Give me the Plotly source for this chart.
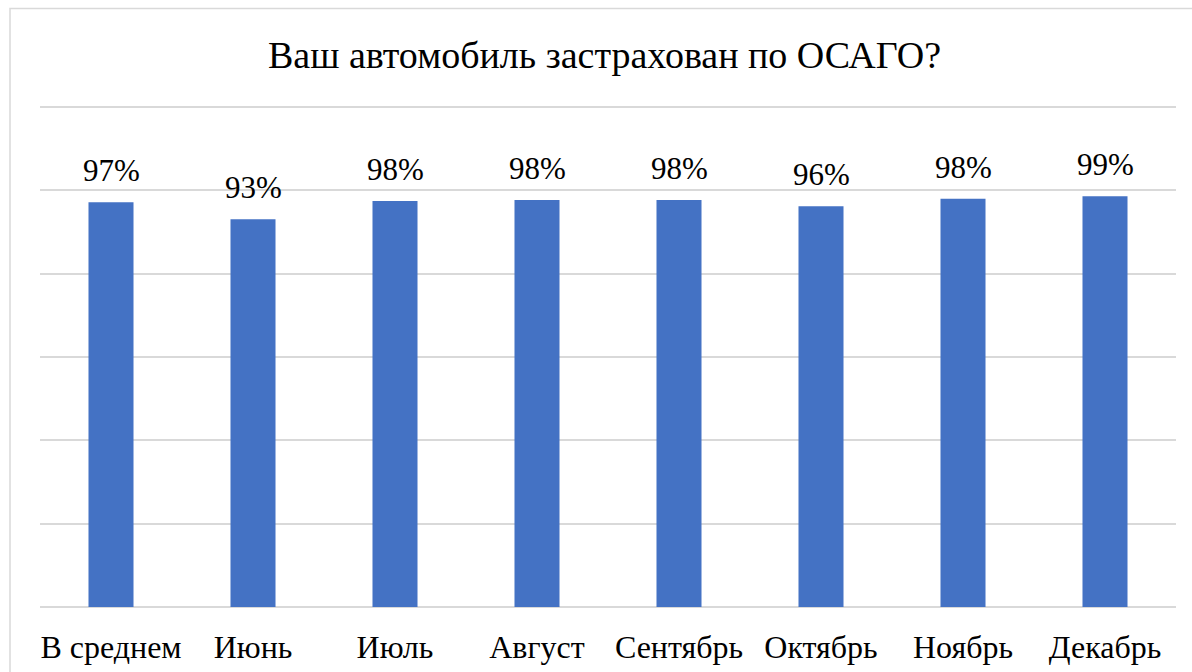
import plotly.graph_objects as go

categories = ["В среднем", "Июнь", "Июль", "Август", "Сентябрь", "Октябрь", "Ноябрь", "Декабрь"]
values = [0.972, 0.931, 0.975, 0.977, 0.977, 0.962, 0.980, 0.986]
labels = ["97%", "93%", "98%", "98%", "98%", "96%", "98%", "99%"]
title_text = "Ваш автомобиль застрахован по ОСАГО?"

FONT = '"Liberation Serif", "Times New Roman", serif'

fig = go.Figure()
fig.add_trace(go.Bar(
    x=categories, y=values,
    marker=dict(color="#4472C4", line=dict(width=0)),
    hoverinfo="skip",
))

for c, v, t in zip(categories, values, labels):
    fig.add_annotation(
        x=c, y=v, xref="x", yref="y", text=t, showarrow=False,
        yanchor="bottom", yshift=12,
        font=dict(family=FONT, size=31, color="#000000"),
    )

# outer chart border (only left and top edges fall inside the frame)
fig.add_shape(type="rect", xref="paper", yref="paper",
              x0=-0.0264, x1=1.2, y0=-0.3, y1=1.1875,
              line=dict(color="#D9D9D9", width=1.5), fillcolor="rgba(0,0,0,0)",
              layer="below")

fig.update_layout(
    width=1192, height=672,
    margin=dict(l=40, r=16, t=103, b=65),
    paper_bgcolor="white", plot_bgcolor="white",
    bargap=0.683,
    showlegend=False,
    title=dict(text=title_text, x=0.5071, xanchor="center",
               y=1 - 54.5 / 672, yanchor="middle", yref="container",
               font=dict(family=FONT, size=38, color="#000000")),
    xaxis=dict(showgrid=False, showline=False, zeroline=False, automargin=False,
               ticks="outside", ticklen=0, ticklabelstandoff=12,
               tickfont=dict(family=FONT, size=32, color="#000000")),
    yaxis=dict(range=[0, 1.21], tickvals=[0.2, 0.4, 0.6, 0.8, 1.0, 1.2],
               showticklabels=False, automargin=False,
               showgrid=True, gridcolor="#D9D9D9", gridwidth=1.5,
               zeroline=True, zerolinecolor="#D9D9D9", zerolinewidth=1.5,
               showline=False),
)

fig.write_html("out.html", config={"displayModeBar": False},
               post_script="document.body.style.margin='0px';")
